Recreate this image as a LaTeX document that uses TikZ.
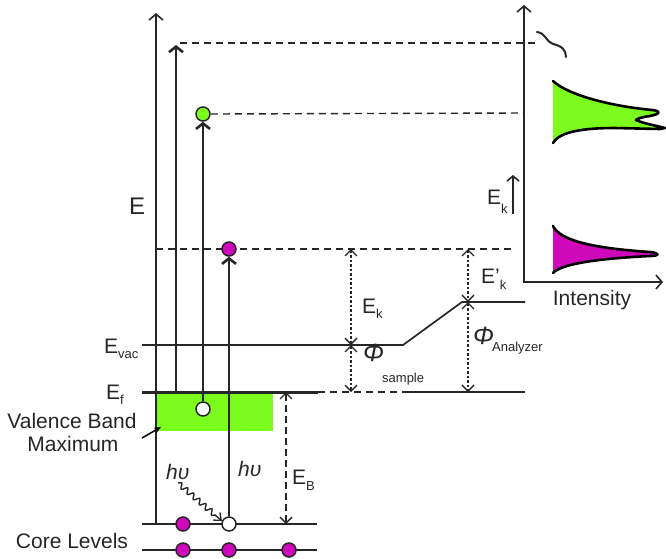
\documentclass[tikz,border=0pt]{standalone}
\usepackage{fontspec}
\setmainfont{Liberation Sans}
\usetikzlibrary{arrows.meta,decorations.pathmorphing}
\definecolor{ink}{RGB}{38,38,38}
\definecolor{vbgreen}{RGB}{124,252,28}
\definecolor{coremag}{RGB}{208,8,188}
\newcommand\lowsub[2]{\raisebox{-#1}{\fontsize{13}{13}\selectfont #2}}
\begin{document}
\begin{tikzpicture}[x=1pt,y=-1pt,
  every node/.style={text=ink, inner sep=0pt},
  lab/.style={font=\fontsize{21}{21}\selectfont},
  lvl/.style={draw=ink,line width=1.7pt},
  dsh/.style={draw=ink,line width=1.4pt,dash pattern=on 7pt off 5pt},
  axisarrow/.style={draw=ink,line width=1.7pt,-{Straight Barb[length=6pt,width=14pt,line width=1.6pt]}},
  photo/.style={draw=ink,line width=1.8pt,-{Straight Barb[length=5.5pt,width=14pt,line width=2.6pt]}},
  meas/.style={draw=ink,line width=1.3pt,dash pattern=on 2.5pt off 2pt,
     {Straight Barb[length=6pt,width=12pt,line width=1.3pt]}-{Straight Barb[length=6pt,width=12pt,line width=1.3pt]}},
  ebarrow/.style={draw=ink,line width=1.3pt,dash pattern=on 7pt off 4pt,
     {Straight Barb[length=6pt,width=12pt,line width=1.3pt]}-{Straight Barb[length=6pt,width=12pt,line width=1.3pt]}},
  elec/.style={circle,draw=ink,line width=1.5pt,minimum size=14pt,inner sep=0pt},
  peak/.style={draw=black,line width=2.6pt,line join=round,line cap=round},
]
\useasboundingbox (0,0) rectangle (666,558);

% ---- coordinates
\coordinate (axB) at (156,524); \coordinate (axT) at (156,13);
\coordinate (a2B) at (176,392); \coordinate (a2T) at (176,45);
\coordinate (vacL) at (142,345); \coordinate (vacK) at (403,345);
\coordinate (vacK2) at (462,302); \coordinate (vacR) at (525,302);
\coordinate (efL) at (142,392); \coordinate (efM) at (318,392);
\coordinate (efD) at (403,392); \coordinate (efR) at (525,392);
\coordinate (c1L) at (142,524); \coordinate (c1R) at (317,524);
\coordinate (c2L) at (142,550); \coordinate (c2R) at (317,550);
\coordinate (d1L) at (180,43); \coordinate (d1R) at (539,43);
\coordinate (d2R) at (524,113);
\coordinate (d3L) at (156,249); \coordinate (d3R) at (515,249);
\coordinate (m1a) at (351,249); \coordinate (m1b) at (351,345); \coordinate (m1c) at (351,392);
\coordinate (m2a) at (468,249); \coordinate (m2b) at (468,302); \coordinate (m2c) at (468,392);
\coordinate (ebT) at (286,392); \coordinate (ebB) at (286,524);
\coordinate (rT) at (524,5); \coordinate (rO) at (524,282); \coordinate (rR) at (663,282);
\coordinate (ekB) at (513,214); \coordinate (ekT) at (513,175);
\coordinate (vbA) at (142,438); \coordinate (vbB) at (161,427);
\coordinate (wvA) at (178,483); \coordinate (wvB) at (222,521);

% ---- valence band
\fill[vbgreen] (157,393) rectangle (273,431);

% ---- levels
\draw[lvl] (vacL) -- (vacK) -- (vacK2) -- (vacR);
\draw[draw=ink,line width=3pt] (efL) -- (efM);
\draw[dsh] (efM) -- (efD);
\draw[lvl] (efD) -- (efR);
\draw[lvl] (c1L) -- (c1R);
\draw[lvl] (c2L) -- (c2R);

% ---- dashed guides
\draw[dsh] (d1L) -- (d1R);
\draw[dsh] (d3L) -- (d3R);

% ---- electrons and holes
\node[elec,fill=vbgreen] (gel) at (203,114) {};
\node[elec,fill=white] (vbh) at (203,409) {};
\node[elec,fill=coremag] (mel) at (229,249) {};
\node[elec,fill=white] (ch) at (229,524) {};
\node[elec,fill=coremag] (cd1) at (183,524) {};
\node[elec,fill=coremag] (cd2) at (183,550) {};
\node[elec,fill=coremag] (cd3) at (229,550) {};
\node[elec,fill=coremag] (cd4) at (289,550) {};
\draw[dsh] (gel.east) -- (d2R);

% ---- vertical arrows
\draw[axisarrow] (axB) -- (axT);
\draw[photo] (a2B) -- (a2T);
\draw[photo] (vbh.north) -- (gel.south);
\draw[photo] (ch.north) -- (mel.south);

% ---- measurements
\draw[meas] (m1a) -- (m1b);
\draw[meas] (m1b) -- (m1c);
\draw[meas] (m2a) -- (m2b);
\draw[meas] (m2b) -- (m2c);
\draw[ebarrow] (ebT) -- (ebB);

% ---- photon
\draw[draw=ink,line width=1.4pt,-{Straight Barb[length=6pt,width=10pt,line width=1.4pt]},
  decorate,decoration={snake,amplitude=2.6pt,segment length=8pt,post length=6pt}] (wvA) -- (wvB);

% ---- VB pointer
\draw[draw=black,line width=1.5pt,-{Stealth[length=7pt,width=6pt]}] (vbA) -- (vbB);

% ---- spectrum axes
\draw[draw=ink,line width=1.7pt,{Straight Barb[length=6pt,width=14pt,line width=1.6pt]}-{Straight Barb[length=6pt,width=14pt,line width=1.6pt]}] (rT) -- (rO) -- (rR);
\draw[draw=ink,line width=1.7pt,-{Straight Barb[length=5pt,width=12pt,line width=1.6pt]}] (ekB) -- (ekT);

% ---- wiggle
\draw[draw=ink,line width=2pt,line cap=round] (537,32) .. controls (546,33) and (546,42) .. (553,44) .. controls (562,46) and (566,50) .. (566,57);

% ---- green peak
\fill[vbgreen] (553,81) .. controls (568,95) and (610,106) .. (652,110) .. controls (662,111) and (660,114) .. (650,116) .. controls (642,117) and (636,119) .. (636,120) .. controls (645,124) and (658,126) .. (665,128) -- (660,129) -- (615,128) .. controls (575,128) and (558,134) .. (553,143) -- cycle;
\draw[peak] (553,81) .. controls (568,95) and (610,106) .. (652,110) .. controls (662,111) and (660,114) .. (650,116) .. controls (642,117) and (636,119) .. (636,120) .. controls (645,124) and (658,126) .. (665,128) -- (660,129) -- (615,128) .. controls (575,128) and (558,134) .. (553,143);

% ---- magenta peak
\fill[coremag] (553,226) .. controls (560,240) and (590,248) .. (650,252) .. controls (660,253) and (660,256) .. (650,256) .. controls (590,259) and (560,265) .. (553,273) -- cycle;
\draw[peak] (553,226) .. controls (560,240) and (590,248) .. (650,252) .. controls (660,253) and (660,256) .. (650,256) .. controls (590,259) and (560,265) .. (553,273);

% ---- labels
\node[font=\fontsize{24}{24}\selectfont,anchor=base west] (lE) at (129,214) {E};
\node[lab,anchor=base west] (lvac) at (104,353) {E\lowsub{5pt}{vac}};
\node[lab,anchor=base west] (lef) at (106,399) {E\lowsub{5pt}{f}};
\node[lab,anchor=base] (lvb1) at (72,428) {Valence Band};
\node[lab,anchor=base] (lvb2) at (73,451) {Maximum};
\node[lab,anchor=base] (lcore) at (72,548) {Core Levels};
\node[lab,anchor=base west] (lhv1) at (166,479) {\textit{hυ}};
\node[lab,anchor=base west] (lhv2) at (238,476) {\textit{hυ}};
\node[lab,anchor=base west] (leb) at (292,484) {E\lowsub{6pt}{B}};
\node[lab,anchor=base west] (lek) at (362,313) {E\lowsub{5pt}{k}};
\node[font=\fontsize{25}{25}\selectfont,anchor=base west] (lphs) at (363,361) {\textit{Φ}};
\node[font=\fontsize{13}{13}\selectfont,anchor=base west] (lsamp) at (382,382) {sample};
\node[lab,anchor=base west] (lekp) at (481,283) {E'\lowsub{6pt}{k}};
\node[font=\fontsize{25}{25}\selectfont,anchor=base west] (lpha) at (473,344) {\textit{Φ}};
\node[font=\fontsize{13}{13}\selectfont,anchor=base west] (lana) at (492,351) {Analyzer};
\node[lab,anchor=base west] (lekr) at (487,204) {E\lowsub{9pt}{k}};
\node[lab,anchor=base] (lint) at (592,305) {Intensity};
\end{tikzpicture}
\end{document}
